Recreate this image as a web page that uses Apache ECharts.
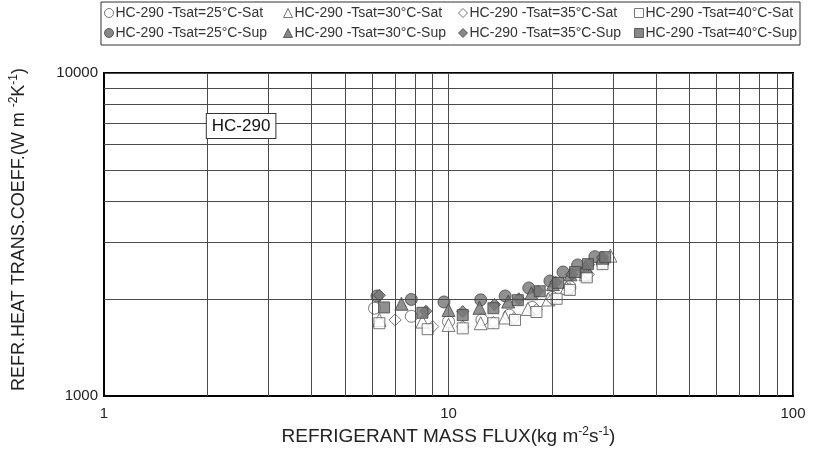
<!DOCTYPE html>
<html>
<head>
<meta charset="utf-8">
<script src="https://cdn.jsdelivr.net/npm/echarts@6/dist/echarts.min.js"></script>
<style>html,body{margin:0;padding:0;background:#fff}#c{width:813px;height:450px}</style>
</head>
<body>
<div id="c"></div>
<script>
// ---- data ----
const xTickLabels = [1, 10, 100];
const yTickLabels = [1000, 10000];
const xMinorGrid = [2, 3, 4, 5, 6, 7, 8, 9, 20, 30, 40, 50, 60, 70, 80, 90];
const yMinorGrid = [2000, 3000, 4000, 5000, 6000, 7000, 8000, 9000];

const seriesNames = [
  'HC-290 -Tsat=25°C-Sat', 'HC-290 -Tsat=30°C-Sat', 'HC-290 -Tsat=35°C-Sat', 'HC-290 -Tsat=40°C-Sat',
  'HC-290 -Tsat=25°C-Sup', 'HC-290 -Tsat=30°C-Sup', 'HC-290 -Tsat=35°C-Sup', 'HC-290 -Tsat=40°C-Sup'
];

const sat25x = [6.1, 7.8, 10.0, 12.5, 15.0, 17.5, 20.0, 22.5, 25.0, 28.0];
const sat25y = [1870, 1765, 1700, 1720, 1780, 1880, 2020, 2180, 2350, 2580];
const sat30x = [6.3, 8.4, 10.0, 12.4, 14.6, 17.0, 19.5, 22.0, 25.0, 29.5];
const sat30y = [1720, 1700, 1660, 1680, 1750, 1860, 1990, 2160, 2380, 2720];
const sat35x = [7.0, 9.0, 11.0, 13.5, 15.5, 18.0, 20.0, 22.5, 25.5, 28.0];
const sat35y = [1720, 1640, 1640, 1690, 1740, 1850, 1990, 2150, 2380, 2600];
const sat40x = [6.3, 8.7, 11.0, 13.5, 15.6, 18.0, 20.6, 22.5, 25.2, 28.0];
const sat40y = [1680, 1610, 1620, 1680, 1720, 1820, 2000, 2130, 2330, 2560];

const sup25x = [6.2, 7.8, 9.7, 12.4, 14.6, 17.1, 19.7, 21.5, 23.7, 26.6];
const sup25y = [2040, 1990, 1955, 1985, 2040, 2160, 2270, 2420, 2545, 2700];
const sup30x = [7.3, 10.0, 12.3, 14.9, 17.4, 20.1, 22.6, 25.0, 28.0];
const sup30y = [1930, 1845, 1875, 1960, 2080, 2220, 2380, 2520, 2680];
const sup35x = [6.3, 8.6, 11.0, 13.6, 16.0, 18.2, 20.5, 22.8, 25.5, 28.0];
const sup35y = [2050, 1830, 1825, 1920, 2000, 2110, 2250, 2380, 2550, 2690];
const sup40x = [6.5, 8.4, 11.0, 13.5, 15.9, 18.4, 20.8, 23.3, 25.4, 28.5];
const sup40y = [1880, 1810, 1780, 1870, 1980, 2110, 2240, 2420, 2560, 2690];

const annotationText = 'HC-290';
const annotationAt = [2.5, 6850];

// ---- build ----
const xs = [sat25x, sat30x, sat35x, sat40x, sup25x, sup30x, sup35x, sup40x];
const ys = [sat25y, sat30y, sat35y, sat40y, sup25y, sup30y, sup35y, sup40y];
const symbols = ['circle', 'triangle', 'diamond', 'rect', 'circle', 'triangle', 'diamond', 'rect'];
const sizes = [12, 13, 12, 11, 12, 13, 12, 11];
const FONT = 'Liberation Sans, Arial, sans-serif';

const series = seriesNames.map((name, i) => {
  const filled = i >= 4;
  return {
    name: name,
    type: 'scatter',
    symbol: symbols[i],
    symbolSize: sizes[i],
    data: xs[i].map((x, k) => [x, ys[i][k]]),
    itemStyle: filled
      ? { color: '#767676', borderColor: '#444', borderWidth: 1 }
      : { color: '#ffffff', borderColor: '#555', borderWidth: 1 },
    z: filled ? 4 : 3
  };
});

series.push({
  type: 'scatter',
  data: [],
  silent: true,
  z: 1,
  markLine: {
    silent: true,
    symbol: 'none',
    label: { show: false },
    lineStyle: { color: '#4a4a4a', width: 1, type: 'solid' },
    data: xMinorGrid.map(v => ({ xAxis: v })).concat(yMinorGrid.map(v => ({ yAxis: v })))
  },
  markPoint: {
    silent: true,
    symbol: 'rect',
    symbolSize: 1,
    itemStyle: { color: 'rgba(0,0,0,0)' },
    label: {
      show: true,
      position: 'inside',
      formatter: annotationText,
      fontFamily: FONT,
      fontSize: 17,
      color: '#111',
      backgroundColor: '#fff',
      borderColor: '#333',
      borderWidth: 1,
      padding: [4, 5, 3, 5]
    },
    data: [{ coord: annotationAt }]
  }
});

const legends = [];
const legendLefts = [104, 283, 458, 634];
seriesNames.forEach((name, i) => {
  legends.push({
    show: true,
    left: legendLefts[i % 4],
    top: i < 4 ? 6 : 26,
    data: [{ name: name, itemStyle: i < 4 ? { color: '#fff', borderColor: '#555', borderWidth: 1 } : { color: '#6a6a6a', borderColor: '#444', borderWidth: 1 } }],
    itemWidth: 9,
    itemHeight: 9,
    itemGap: 2,
    padding: 0,
    selectedMode: false,
    textStyle: { fontFamily: FONT, fontSize: 14, color: '#333', padding: [0, 0, 0, -3] }
  });
});

const option = {
  animation: false,
  backgroundColor: '#fff',
  grid: { left: 104, right: 20, top: 73, bottom: 54, outerBoundsMode: 'none', containLabel: false, show: true, borderColor: '#000', borderWidth: 2, backgroundColor: 'transparent' },
  legend: legends,
  graphic: [{
    type: 'rect',
    shape: { x: 101, y: 2, width: 699, height: 43 },
    style: { fill: 'none', stroke: '#333', lineWidth: 1 },
    z: 10
  }],
  xAxis: {
    type: 'log',
    logBase: 10,
    min: 1,
    max: 100,
    name: 'REFRIGERANT MASS FLUX(kg m{sup|-2}s{sup|-1})',
    nameLocation: 'middle',
    nameGap: 29,
    nameTextStyle: {
      fontFamily: FONT, fontSize: 19, color: '#222',
      rich: { sup: { fontFamily: FONT, fontSize: 12, color: '#222', verticalAlign: 'top', padding: [0, 0, 10, 0] } }
    },
    axisLine: { show: true, lineStyle: { color: '#000', width: 2 } },
    axisTick: { show: false },
    splitLine: { show: true, lineStyle: { color: '#4a4a4a', width: 1 } },
    axisLabel: {
      fontFamily: FONT, fontSize: 15, color: '#222', margin: 10,
      formatter: v => { const r = Math.round(v); return xTickLabels.indexOf(r) >= 0 ? String(r) : ''; }
    }
  },
  yAxis: {
    type: 'log',
    logBase: 10,
    min: 1000,
    max: 10000,
    name: 'REFR.HEAT TRANS.COEFF.(W m {sup|-2}K{sup|-1})',
    nameLocation: 'middle',
    nameGap: 74,
    nameRotate: 90,
    nameTextStyle: {
      fontFamily: FONT, fontSize: 18, color: '#222', padding: [0, 0, 0, 10],
      rich: { sup: { fontFamily: FONT, fontSize: 12, color: '#222', verticalAlign: 'top', padding: [0, 0, 10, 0] } }
    },
    axisLine: { show: true, lineStyle: { color: '#000', width: 2 } },
    axisTick: { show: false },
    splitLine: { show: true, lineStyle: { color: '#4a4a4a', width: 1 } },
    axisLabel: {
      fontFamily: FONT, fontSize: 15, color: '#222', margin: 6,
      formatter: v => { const r = Math.round(v); return yTickLabels.indexOf(r) >= 0 ? String(r) : ''; }
    }
  },
  series: series
};

const chart = echarts.init(document.getElementById('c'), null, { renderer: 'canvas' });
chart.setOption(option);
</script>
</body>
</html>
